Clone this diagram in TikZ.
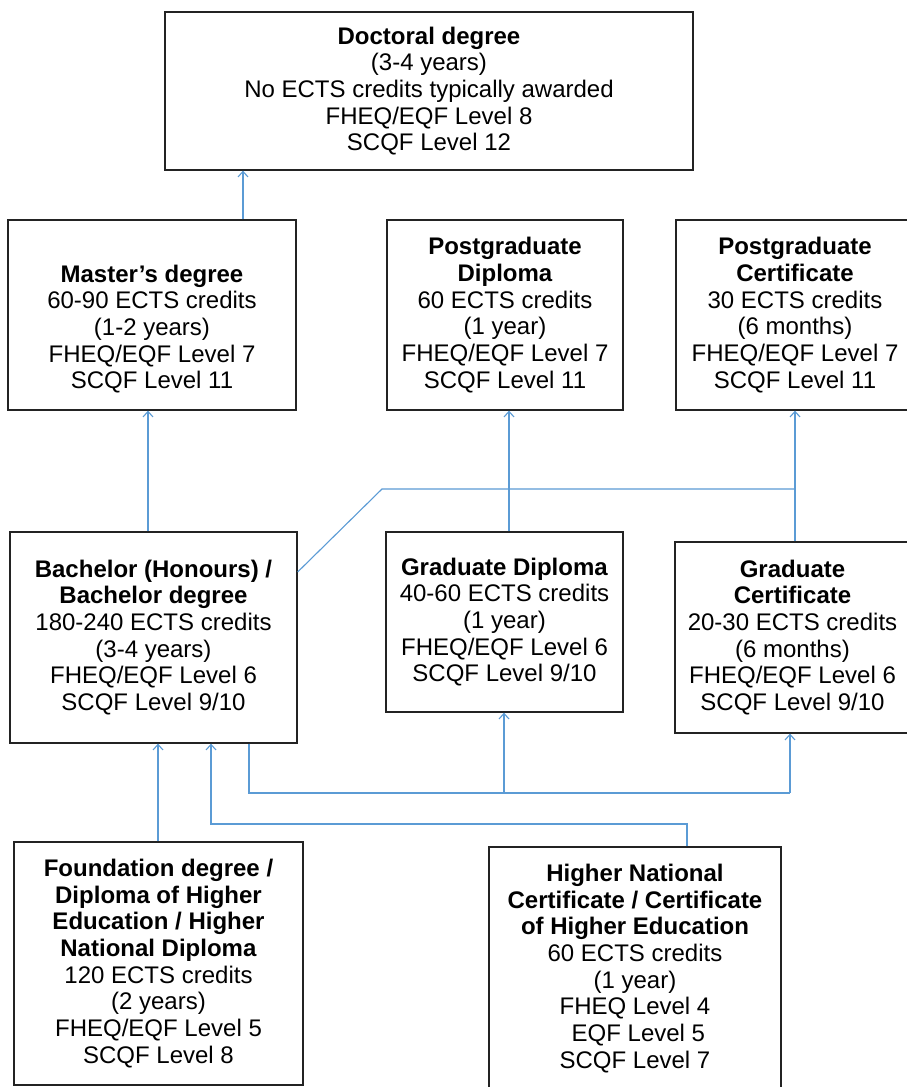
\documentclass[tikz,border=0pt]{standalone}
\usepackage{fontspec}
\setmainfont{Liberation Sans}
\usetikzlibrary{arrows.meta}
\definecolor{linkblue}{RGB}{91,155,213}
\definecolor{boxline}{RGB}{35,35,35}
\newcommand{\boxfont}{\fontsize{24}{26.7}\selectfont}
\begin{document}
\begin{tikzpicture}[x=1pt,y=-1pt,
  card/.style={draw=boxline, line width=1.3pt, align=center, inner sep=0pt, font=\boxfont},
  link/.style={draw=linkblue, line width=1.1pt},
  linkarrow/.style={link, -{Straight Barb[length=5.5pt,width=10pt,line width=1.1pt]}}]
\clip (0,0) rectangle (907,1087);
\fill[white] (0,0) rectangle (907,1087);

% qualification boxes
\node[card, minimum width=528pt, minimum height=158pt] (doc) at (429,91)
  {\textbf{Doctoral degree}\\(3-4 years)\\No ECTS credits typically awarded\\FHEQ/EQF Level 8\\SCQF Level 12};

\node[card, minimum width=288pt, minimum height=190pt] (mas) at (152,315)
  {\strut\\\textbf{Master’s degree}\\60-90 ECTS credits\\(1-2 years)\\FHEQ/EQF Level 7\\SCQF Level 11};
\node[card, minimum width=236pt, minimum height=190pt] (pgd) at (505,315)
  {\textbf{Postgraduate}\\\textbf{Diploma}\\60 ECTS credits\\(1 year)\\FHEQ/EQF Level 7\\SCQF Level 11};
\node[card, minimum width=238pt, minimum height=190pt] (pgc) at (795,315)
  {\textbf{Postgraduate}\\\textbf{Certificate}\\30 ECTS credits\\(6 months)\\FHEQ/EQF Level 7\\SCQF Level 11};

\node[card, minimum width=287pt, minimum height=211pt] (bach) at (153.5,637.5)
  {\textbf{Bachelor (Honours) /}\\\textbf{Bachelor degree}\\180-240 ECTS credits\\(3-4 years)\\FHEQ/EQF Level 6\\SCQF Level 9/10};
\node[card, minimum width=237pt, minimum height=180pt] (gd) at (504.5,622)
  {\textbf{Graduate Diploma}\\40-60 ECTS credits\\(1 year)\\FHEQ/EQF Level 6\\SCQF Level 9/10};
\node[card, minimum width=235pt, minimum height=191pt] (gc) at (792.5,637.5)
  {\textbf{Graduate}\\\textbf{Certificate}\\20-30 ECTS credits\\(6 months)\\FHEQ/EQF Level 6\\SCQF Level 9/10};

\node[card, minimum width=289pt, minimum height=243pt] (fd) at (158.5,963.5)
  {\textbf{Foundation degree /}\\\textbf{Diploma of Higher}\\\textbf{Education / Higher}\\\textbf{National Diploma}\\120 ECTS credits\\(2 years)\\FHEQ/EQF Level 5\\SCQF Level 8};
\node[card, minimum width=292pt, minimum height=243pt] (hnc) at (635,968.5)
  {\textbf{Higher National}\\\textbf{Certificate / Certificate}\\\textbf{of Higher Education}\\60 ECTS credits\\(1 year)\\FHEQ Level 4\\\hspace*{0.28em}EQF Level 5\\SCQF Level 7};

% junction points of the connectors
\coordinate (bend) at (382,489);
\coordinate (join) at (795,489);
\coordinate (drop) at (249,793);
\coordinate (busM) at (504,793);
\coordinate (busR) at (790,793);
\coordinate (hncUp) at (687,824);
\coordinate (hncL) at (211,824);

% progression routes
\draw[linkarrow] (243,0 |- mas.north) -- (243,0 |- doc.south);
\draw[linkarrow] (148,0 |- bach.north) -- (148,0 |- mas.south);
\draw[linkarrow] (509,0 |- gd.north) -- (509,0 |- pgd.south);
\draw[linkarrow] (795,0 |- gc.north) -- (795,0 |- pgc.south);
\draw[link] (bach.east |- 0,572) -- (bend) -- (join);

\draw[link] (249,0 |- bach.south) -- (drop) -- (busR);
\draw[linkarrow] (busM) -- (504,0 |- gd.south);
\draw[linkarrow] (busR) -- (790,0 |- gc.south);

\draw[linkarrow] (158,0 |- fd.north) -- (158,0 |- bach.south);
\draw[linkarrow] (687,0 |- hnc.north) -- (hncUp) -- (hncL) -- (211,0 |- bach.south);
\end{tikzpicture}
\end{document}
